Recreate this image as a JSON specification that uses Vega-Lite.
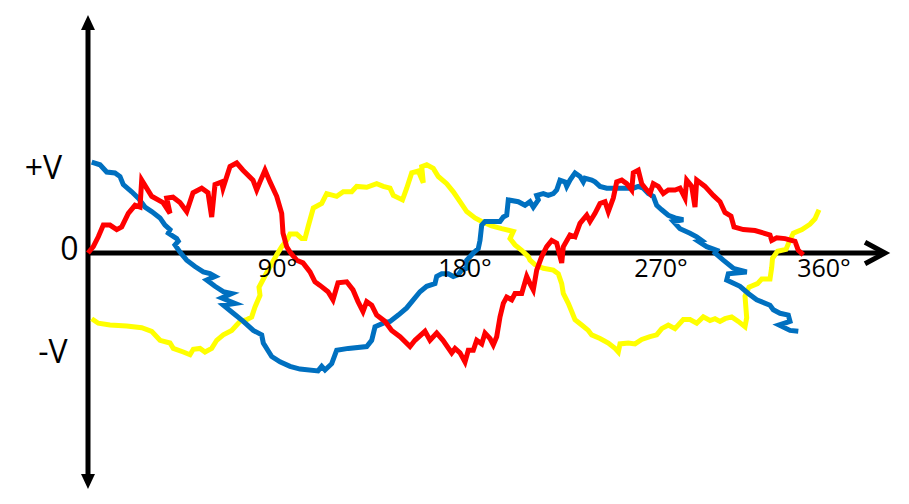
{
"$schema": "https://vega.github.io/schema/vega-lite/v6.json",
"width": 909, "height": 504,
"autosize": {"type": "fit", "contains": "padding"},
"padding": 0,
"background": "white",
"config": {"view": {"stroke": null}},
"datasets": {
"waves": [
{"p":"A","deg":0,"v":0},{"p":"A","deg":2.65,"v":0.07},{"p":"A","deg":5.15,"v":0.18},{"p":"A","deg":7.65,"v":0.31},{"p":"A","deg":11,"v":0.31},{"p":"A","deg":14.35,"v":0.26},{"p":"A","deg":16.85,"v":0.29},{"p":"A","deg":20.15,"v":0.44},{"p":"A","deg":23.5,"v":0.53},{"p":"A","deg":26,"v":0.51},{"p":"A","deg":26.85,"v":0.81},{"p":"A","deg":31.85,"v":0.63},{"p":"A","deg":37.5,"v":0.56},{"p":"A","deg":41,"v":0.44},{"p":"A","deg":39.35,"v":0.61},{"p":"A","deg":42.5,"v":0.62},{"p":"A","deg":46,"v":0.56},{"p":"A","deg":49.35,"v":0.46},{"p":"A","deg":51,"v":0.57},{"p":"A","deg":52.5,"v":0.67},{"p":"A","deg":56.85,"v":0.72},{"p":"A","deg":60,"v":0.67},{"p":"A","deg":61.85,"v":0.40},{"p":"A","deg":63.5,"v":0.76},{"p":"A","deg":66.85,"v":0.79},{"p":"A","deg":67.5,"v":0.72},{"p":"A","deg":71,"v":0.96},{"p":"A","deg":74.35,"v":1.00},{"p":"A","deg":77.5,"v":0.92},{"p":"A","deg":82.5,"v":0.81},{"p":"A","deg":84.35,"v":0.70},{"p":"A","deg":86,"v":0.79},{"p":"A","deg":88.5,"v":0.92},{"p":"A","deg":91,"v":0.79},{"p":"A","deg":94.35,"v":0.63},{"p":"A","deg":96.85,"v":0.44},{"p":"A","deg":97.5,"v":0.22},{"p":"A","deg":99.35,"v":0.07},{"p":"A","deg":101,"v":0.01},{"p":"A","deg":104.35,"v":-0.08},{"p":"A","deg":107.5,"v":-0.11},{"p":"A","deg":111,"v":-0.21},{"p":"A","deg":113.5,"v":-0.32},{"p":"A","deg":116,"v":-0.36},{"p":"A","deg":120,"v":-0.43},{"p":"A","deg":122.5,"v":-0.52},{"p":"A","deg":125,"v":-0.33},{"p":"A","deg":129.35,"v":-0.32},{"p":"A","deg":132.5,"v":-0.41},{"p":"A","deg":135,"v":-0.54},{"p":"A","deg":137.5,"v":-0.65},{"p":"A","deg":139.35,"v":-0.54},{"p":"A","deg":141.85,"v":-0.58},{"p":"A","deg":144.35,"v":-0.69},{"p":"A","deg":148.5,"v":-0.76},{"p":"A","deg":151.85,"v":-0.86},{"p":"A","deg":156,"v":-0.93},{"p":"A","deg":161,"v":-1.04},{"p":"A","deg":163.5,"v":-0.97},{"p":"A","deg":168.5,"v":-0.87},{"p":"A","deg":171,"v":-0.97},{"p":"A","deg":174.35,"v":-0.89},{"p":"A","deg":177.5,"v":-0.97},{"p":"A","deg":181.85,"v":-1.11},{"p":"A","deg":183.5,"v":-1.06},{"p":"A","deg":186,"v":-1.11},{"p":"A","deg":188.5,"v":-1.21},{"p":"A","deg":190.15,"v":-1.08},{"p":"A","deg":192.65,"v":-1.08},{"p":"A","deg":194.35,"v":-0.97},{"p":"A","deg":196.85,"v":-1.01},{"p":"A","deg":198.5,"v":-0.89},{"p":"A","deg":201,"v":-0.95},{"p":"A","deg":202.65,"v":-1.02},{"p":"A","deg":204.35,"v":-0.93},{"p":"A","deg":206,"v":-0.71},{"p":"A","deg":207.65,"v":-0.56},{"p":"A","deg":209.35,"v":-0.49},{"p":"A","deg":211.85,"v":-0.52},{"p":"A","deg":213.5,"v":-0.45},{"p":"A","deg":216.85,"v":-0.45},{"p":"A","deg":219.35,"v":-0.26},{"p":"A","deg":221,"v":-0.34},{"p":"A","deg":222.65,"v":-0.41},{"p":"A","deg":224.35,"v":-0.19},{"p":"A","deg":226.85,"v":-0.04},{"p":"A","deg":229.35,"v":0.07},{"p":"A","deg":231.85,"v":0.14},{"p":"A","deg":234.35,"v":0.11},{"p":"A","deg":236.85,"v":-0.11},{"p":"A","deg":237.65,"v":0.07},{"p":"A","deg":241,"v":0.20},{"p":"A","deg":243.5,"v":0.18},{"p":"A","deg":246,"v":0.33},{"p":"A","deg":249.35,"v":0.42},{"p":"A","deg":251,"v":0.35},{"p":"A","deg":253.5,"v":0.44},{"p":"A","deg":256,"v":0.55},{"p":"A","deg":258.5,"v":0.57},{"p":"A","deg":260.15,"v":0.46},{"p":"A","deg":262.65,"v":0.61},{"p":"A","deg":264.35,"v":0.79},{"p":"A","deg":266.85,"v":0.81},{"p":"A","deg":269.35,"v":0.77},{"p":"A","deg":271.85,"v":0.70},{"p":"A","deg":272.65,"v":0.89},{"p":"A","deg":275.15,"v":0.92},{"p":"A","deg":276.85,"v":0.77},{"p":"A","deg":279.35,"v":0.70},{"p":"A","deg":281,"v":0.66},{"p":"A","deg":282.65,"v":0.77},{"p":"A","deg":285.15,"v":0.74},{"p":"A","deg":287.65,"v":0.66},{"p":"A","deg":290.15,"v":0.70},{"p":"A","deg":293.5,"v":0.70},{"p":"A","deg":296,"v":0.72},{"p":"A","deg":298.5,"v":0.61},{"p":"A","deg":299.35,"v":0.81},{"p":"A","deg":301.85,"v":0.74},{"p":"A","deg":303.5,"v":0.51},{"p":"A","deg":304.35,"v":0.81},{"p":"A","deg":308.5,"v":0.74},{"p":"A","deg":312.65,"v":0.64},{"p":"A","deg":316,"v":0.57},{"p":"A","deg":318.5,"v":0.45},{"p":"A","deg":321.5,"v":0.41},{"p":"A","deg":323,"v":0.29},{"p":"A","deg":327.65,"v":0.26},{"p":"A","deg":333.5,"v":0.25},{"p":"A","deg":341,"v":0.20},{"p":"A","deg":341.85,"v":0.14},{"p":"A","deg":344.35,"v":0.17},{"p":"A","deg":348.5,"v":0.16},{"p":"A","deg":353.5,"v":0.13},{"p":"A","deg":355.15,"v":0.03},{"p":"A","deg":357.65,"v":-0.02},
{"p":"B","deg":1.85,"v":1.01},{"p":"B","deg":6,"v":0.98},{"p":"B","deg":9.35,"v":0.90},{"p":"B","deg":13.5,"v":0.89},{"p":"B","deg":16,"v":0.85},{"p":"B","deg":17.65,"v":0.76},{"p":"B","deg":21.85,"v":0.68},{"p":"B","deg":25.15,"v":0.61},{"p":"B","deg":28.5,"v":0.51},{"p":"B","deg":31.85,"v":0.46},{"p":"B","deg":36,"v":0.39},{"p":"B","deg":38.5,"v":0.31},{"p":"B","deg":41,"v":0.26},{"p":"B","deg":40.15,"v":0.22},{"p":"B","deg":44.35,"v":0.16},{"p":"B","deg":45.15,"v":0.13},{"p":"B","deg":43.5,"v":0.09},{"p":"B","deg":46,"v":0.01},{"p":"B","deg":49.35,"v":-0.08},{"p":"B","deg":53.5,"v":-0.15},{"p":"B","deg":57.65,"v":-0.21},{"p":"B","deg":61,"v":-0.23},{"p":"B","deg":63.5,"v":-0.26},{"p":"B","deg":59.35,"v":-0.30},{"p":"B","deg":63.5,"v":-0.37},{"p":"B","deg":67.65,"v":-0.43},{"p":"B","deg":71.85,"v":-0.45},{"p":"B","deg":66.85,"v":-0.50},{"p":"B","deg":73.5,"v":-0.56},{"p":"B","deg":67.65,"v":-0.58},{"p":"B","deg":72.65,"v":-0.67},{"p":"B","deg":77.65,"v":-0.76},{"p":"B","deg":82.65,"v":-0.86},{"p":"B","deg":86.85,"v":-0.91},{"p":"B","deg":87.65,"v":-1.00},{"p":"B","deg":91.85,"v":-1.15},{"p":"B","deg":96,"v":-1.21},{"p":"B","deg":101,"v":-1.26},{"p":"B","deg":106,"v":-1.29},{"p":"B","deg":115,"v":-1.31},{"p":"B","deg":116.85,"v":-1.26},{"p":"B","deg":118.5,"v":-1.30},{"p":"B","deg":121.85,"v":-1.23},{"p":"B","deg":124.35,"v":-1.08},{"p":"B","deg":130.15,"v":-1.06},{"p":"B","deg":139.35,"v":-1.04},{"p":"B","deg":141.85,"v":-0.97},{"p":"B","deg":143.5,"v":-0.82},{"p":"B","deg":147.65,"v":-0.78},{"p":"B","deg":151,"v":-0.76},{"p":"B","deg":155.15,"v":-0.69},{"p":"B","deg":159.35,"v":-0.61},{"p":"B","deg":162.65,"v":-0.52},{"p":"B","deg":166,"v":-0.43},{"p":"B","deg":169.35,"v":-0.37},{"p":"B","deg":173.5,"v":-0.34},{"p":"B","deg":174.35,"v":-0.26},{"p":"B","deg":176.85,"v":-0.23},{"p":"B","deg":180.15,"v":-0.23},{"p":"B","deg":182.65,"v":-0.26},{"p":"B","deg":185.15,"v":-0.24},{"p":"B","deg":186.85,"v":-0.19},{"p":"B","deg":189.35,"v":-0.17},{"p":"B","deg":189.35,"v":-0.08},{"p":"B","deg":192.65,"v":0.00},{"p":"B","deg":195.15,"v":0.05},{"p":"B","deg":196,"v":0.14},{"p":"B","deg":196.85,"v":0.31},{"p":"B","deg":198.5,"v":0.35},{"p":"B","deg":206,"v":0.35},{"p":"B","deg":207.65,"v":0.40},{"p":"B","deg":209.35,"v":0.42},{"p":"B","deg":210.15,"v":0.59},{"p":"B","deg":215.15,"v":0.57},{"p":"B","deg":218.5,"v":0.53},{"p":"B","deg":221,"v":0.57},{"p":"B","deg":222.65,"v":0.51},{"p":"B","deg":225.15,"v":0.59},{"p":"B","deg":224.35,"v":0.64},{"p":"B","deg":227.65,"v":0.66},{"p":"B","deg":230.15,"v":0.64},{"p":"B","deg":232.65,"v":0.66},{"p":"B","deg":234.35,"v":0.70},{"p":"B","deg":236,"v":0.81},{"p":"B","deg":238.5,"v":0.79},{"p":"B","deg":239.35,"v":0.74},{"p":"B","deg":241,"v":0.81},{"p":"B","deg":243.5,"v":0.89},{"p":"B","deg":246,"v":0.85},{"p":"B","deg":247.65,"v":0.79},{"p":"B","deg":248.5,"v":0.83},{"p":"B","deg":251.85,"v":0.81},{"p":"B","deg":253.5,"v":0.79},{"p":"B","deg":256,"v":0.74},{"p":"B","deg":259.35,"v":0.72},{"p":"B","deg":266,"v":0.72},{"p":"B","deg":272.65,"v":0.72},{"p":"B","deg":275.15,"v":0.74},{"p":"B","deg":277.65,"v":0.72},{"p":"B","deg":280.15,"v":0.66},{"p":"B","deg":282.65,"v":0.63},{"p":"B","deg":284.35,"v":0.53},{"p":"B","deg":286.85,"v":0.48},{"p":"B","deg":290.15,"v":0.42},{"p":"B","deg":293.5,"v":0.39},{"p":"B","deg":297.65,"v":0.37},{"p":"B","deg":292.65,"v":0.35},{"p":"B","deg":296,"v":0.27},{"p":"B","deg":301,"v":0.22},{"p":"B","deg":304.35,"v":0.18},{"p":"B","deg":306.85,"v":0.14},{"p":"B","deg":305.15,"v":0.13},{"p":"B","deg":309.35,"v":0.07},{"p":"B","deg":314.35,"v":0.03},{"p":"B","deg":313.5,"v":0.00},{"p":"B","deg":317.65,"v":-0.08},{"p":"B","deg":322.65,"v":-0.17},{"p":"B","deg":329.35,"v":-0.21},{"p":"B","deg":320.15,"v":-0.23},{"p":"B","deg":319.35,"v":-0.30},{"p":"B","deg":326,"v":-0.37},{"p":"B","deg":330.15,"v":-0.45},{"p":"B","deg":334.35,"v":-0.52},{"p":"B","deg":341,"v":-0.58},{"p":"B","deg":342.65,"v":-0.63},{"p":"B","deg":346,"v":-0.67},{"p":"B","deg":350.15,"v":-0.69},{"p":"B","deg":351,"v":-0.76},{"p":"B","deg":345.5,"v":-0.80},{"p":"B","deg":351,"v":-0.86},{"p":"B","deg":355.15,"v":-0.87},
{"p":"C","deg":1.85,"v":-0.73},{"p":"C","deg":5.15,"v":-0.78},{"p":"C","deg":11,"v":-0.80},{"p":"C","deg":19.35,"v":-0.81},{"p":"C","deg":26.85,"v":-0.83},{"p":"C","deg":31.85,"v":-0.87},{"p":"C","deg":36,"v":-0.97},{"p":"C","deg":41,"v":-1.00},{"p":"C","deg":42.65,"v":-1.06},{"p":"C","deg":47.65,"v":-1.10},{"p":"C","deg":51,"v":-1.13},{"p":"C","deg":52.65,"v":-1.07},{"p":"C","deg":56,"v":-1.06},{"p":"C","deg":58.5,"v":-1.10},{"p":"C","deg":61.85,"v":-1.06},{"p":"C","deg":64.35,"v":-0.97},{"p":"C","deg":67.65,"v":-0.91},{"p":"C","deg":71.85,"v":-0.86},{"p":"C","deg":74.35,"v":-0.80},{"p":"C","deg":76,"v":-0.76},{"p":"C","deg":79.35,"v":-0.74},{"p":"C","deg":81.85,"v":-0.71},{"p":"C","deg":83.5,"v":-0.60},{"p":"C","deg":86,"v":-0.47},{"p":"C","deg":85.5,"v":-0.38},{"p":"C","deg":89.35,"v":-0.22},{"p":"C","deg":91.85,"v":-0.12},{"p":"C","deg":94.35,"v":-0.02},{"p":"C","deg":96.85,"v":0.07},{"p":"C","deg":99.35,"v":0.14},{"p":"C","deg":101,"v":0.21},{"p":"C","deg":104.35,"v":0.21},{"p":"C","deg":106.85,"v":0.16},{"p":"C","deg":108.5,"v":0.16},{"p":"C","deg":110.15,"v":0.30},{"p":"C","deg":112.65,"v":0.50},{"p":"C","deg":116.85,"v":0.55},{"p":"C","deg":119.35,"v":0.66},{"p":"C","deg":124.35,"v":0.63},{"p":"C","deg":127.65,"v":0.68},{"p":"C","deg":131.85,"v":0.68},{"p":"C","deg":134.35,"v":0.74},{"p":"C","deg":139.35,"v":0.73},{"p":"C","deg":144.35,"v":0.77},{"p":"C","deg":147.65,"v":0.74},{"p":"C","deg":151,"v":0.72},{"p":"C","deg":152.65,"v":0.64},{"p":"C","deg":157.25,"v":0.59},{"p":"C","deg":159.35,"v":0.72},{"p":"C","deg":161.85,"v":0.89},{"p":"C","deg":165.15,"v":0.91},{"p":"C","deg":167.65,"v":0.78},{"p":"C","deg":166.85,"v":0.96},{"p":"C","deg":169.35,"v":0.98},{"p":"C","deg":172.65,"v":0.94},{"p":"C","deg":175.15,"v":0.85},{"p":"C","deg":179.35,"v":0.77},{"p":"C","deg":182.65,"v":0.68},{"p":"C","deg":186,"v":0.57},{"p":"C","deg":189.35,"v":0.46},{"p":"C","deg":193.5,"v":0.39},{"p":"C","deg":196.85,"v":0.35},{"p":"C","deg":201.85,"v":0.30},{"p":"C","deg":206.85,"v":0.27},{"p":"C","deg":212.65,"v":0.24},{"p":"C","deg":211,"v":0.16},{"p":"C","deg":213.5,"v":0.09},{"p":"C","deg":216.85,"v":0.03},{"p":"C","deg":220.15,"v":-0.04},{"p":"C","deg":221,"v":-0.08},{"p":"C","deg":223.5,"v":-0.13},{"p":"C","deg":227.65,"v":-0.17},{"p":"C","deg":232.65,"v":-0.19},{"p":"C","deg":235.15,"v":-0.23},{"p":"C","deg":236.85,"v":-0.34},{"p":"C","deg":237.65,"v":-0.45},{"p":"C","deg":240.15,"v":-0.56},{"p":"C","deg":241.85,"v":-0.65},{"p":"C","deg":243.5,"v":-0.74},{"p":"C","deg":246.85,"v":-0.80},{"p":"C","deg":250.15,"v":-0.86},{"p":"C","deg":251.85,"v":-0.91},{"p":"C","deg":256,"v":-0.95},{"p":"C","deg":260.15,"v":-1.00},{"p":"C","deg":263.5,"v":-1.06},{"p":"C","deg":265.15,"v":-1.10},{"p":"C","deg":266,"v":-1.01},{"p":"C","deg":270.15,"v":-1.00},{"p":"C","deg":273.5,"v":-1.01},{"p":"C","deg":276.85,"v":-0.96},{"p":"C","deg":281,"v":-0.93},{"p":"C","deg":284.35,"v":-0.91},{"p":"C","deg":286.85,"v":-0.84},{"p":"C","deg":290.15,"v":-0.80},{"p":"C","deg":293.5,"v":-0.84},{"p":"C","deg":297.65,"v":-0.74},{"p":"C","deg":301,"v":-0.74},{"p":"C","deg":304.35,"v":-0.78},{"p":"C","deg":307.65,"v":-0.71},{"p":"C","deg":311,"v":-0.75},{"p":"C","deg":313.5,"v":-0.73},{"p":"C","deg":316,"v":-0.76},{"p":"C","deg":318.5,"v":-0.73},{"p":"C","deg":321.85,"v":-0.71},{"p":"C","deg":325.15,"v":-0.76},{"p":"C","deg":328.5,"v":-0.82},{"p":"C","deg":329.35,"v":-0.72},{"p":"C","deg":328.5,"v":-0.48},{"p":"C","deg":330.5,"v":-0.38},{"p":"C","deg":334.75,"v":-0.34},{"p":"C","deg":336.85,"v":-0.29},{"p":"C","deg":341,"v":-0.29},{"p":"C","deg":341.85,"v":-0.16},{"p":"C","deg":342.25,"v":-0.06},{"p":"C","deg":344.75,"v":0.02},{"p":"C","deg":349,"v":0.04},{"p":"C","deg":350.5,"v":0.12},{"p":"C","deg":352.65,"v":0.22},{"p":"C","deg":357,"v":0.26},{"p":"C","deg":361,"v":0.32},{"p":"C","deg":363.5,"v":0.38},{"p":"C","deg":365.5,"v":0.48}
],
"axes": [
{"seg":"vertical","deg":0,"v":2.48},{"seg":"vertical","deg":0,"v":-2.5},
{"seg":"horizontal","deg":0,"v":0},{"seg":"horizontal","deg":397,"v":0},
{"seg":"head","deg":388.5,"v":0.12},{"seg":"head","deg":398.5,"v":0},{"seg":"head","deg":388.5,"v":-0.12}
],
"heads": [
{"dir":"up","deg":0,"v":2.561},{"dir":"down","deg":0,"v":-2.539}
],
"labels": [
{"kind":"volt","deg":-22.25,"v":0.822,"text":"+V"},
{"kind":"volt","deg":-9.25,"v":-0.078,"text":"0"},
{"kind":"volt","deg":-17.5,"v":-1.222,"text":"-V"},
{"kind":"angle","deg":94.75,"v":-0.267,"text":"90°"},
{"kind":"angle","deg":188.5,"v":-0.267,"text":"180°"},
{"kind":"angle","deg":286.5,"v":-0.267,"text":"270°"},
{"kind":"angle","deg":368,"v":-0.267,"text":"360°"}
]
},
"encoding": {
"x": {"field": "deg", "type": "quantitative", "scale": {"domain": [-44, 410.5], "nice": false, "zero": false}, "axis": null},
"y": {"field": "v", "type": "quantitative", "scale": {"domain": [-2.7889, 2.8111], "nice": false, "zero": false}, "axis": null}
},
"layer": [
{"data": {"name": "axes"}, "mark": {"type": "line", "color": "black", "strokeWidth": 5, "strokeJoin": "miter", "strokeCap": "butt"}, "encoding": {"detail": {"field": "seg"}, "order": {"value": null}}},
{"data": {"name": "heads"}, "transform": [{"filter": "datum.dir == 'up'"}], "mark": {"type": "point", "shape": "M0,-1L0.93,1L-0.93,1Z", "size": 225, "filled": true, "color": "black", "opacity": 1, "strokeWidth": 0}, "encoding": {}},
{"data": {"name": "heads"}, "transform": [{"filter": "datum.dir == 'down'"}], "mark": {"type": "point", "shape": "M0,1L0.93,-1L-0.93,-1Z", "size": 225, "filled": true, "color": "black", "opacity": 1, "strokeWidth": 0}, "encoding": {}},
{"data": {"name": "waves"}, "transform": [{"filter": "datum.p == 'C'"}], "mark": {"type": "line", "color": "#FFFF00", "strokeWidth": 5, "strokeJoin": "miter"}, "encoding": {"order": {"value": null}}},
{"data": {"name": "waves"}, "transform": [{"filter": "datum.p == 'B'"}], "mark": {"type": "line", "color": "#0070C0", "strokeWidth": 5, "strokeJoin": "miter"}, "encoding": {"order": {"value": null}}},
{"data": {"name": "waves"}, "transform": [{"filter": "datum.p == 'A'"}], "mark": {"type": "line", "color": "#FF0000", "strokeWidth": 5, "strokeJoin": "miter"}, "encoding": {"order": {"value": null}}},
{"data": {"name": "labels"}, "transform": [{"filter": "datum.kind == 'volt'"}], "mark": {"type": "text", "font": "Open Sans", "fontSize": 32, "align": "center", "baseline": "alphabetic", "color": "black"}, "encoding": {"text": {"field": "text"}}},
{"data": {"name": "labels"}, "transform": [{"filter": "datum.kind == 'angle'"}], "mark": {"type": "text", "font": "Open Sans", "fontSize": 25, "align": "center", "baseline": "alphabetic", "color": "black"}, "encoding": {"text": {"field": "text"}}}
]
}
